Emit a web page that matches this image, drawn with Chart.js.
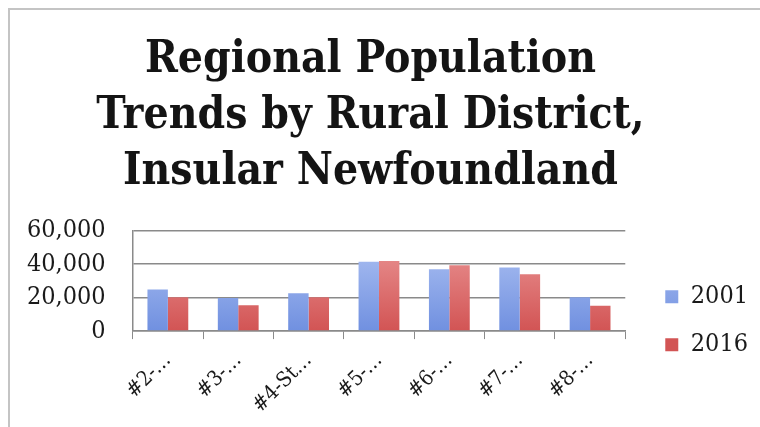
<!DOCTYPE html>
<html lang="en">
<head>
    <meta charset="UTF-8">
    <title>Regional Population Trends by Rural District</title>
    <script src="https://cdn.jsdelivr.net/npm/chart.js"></script>
    <style>
        body { margin: 0; background: #fff; }
        #frame {
            position: absolute; left: 0; top: 0; width: 760px; height: 427px;
        }
        #edge {
            position: absolute; left: 8px; top: 8px; right: 0; bottom: 0;
            border-left: 2px solid #c4c4c4; border-top: 2px solid #c4c4c4;
            pointer-events: none;
        }
    </style>
</head>
<body>
    <div id="frame">
        <canvas id="popChart" width="760" height="427"></canvas>
        <div id="edge"></div>
    </div>
    <script>
        // rural districts (labels are truncated on the axis)
        const districts = ['#2-\u2026', '#3-\u2026', '#4-St\u2026', '#5-\u2026', '#6-\u2026', '#7-\u2026', '#8-\u2026'];
        const pop2001 = [24800, 19800, 22600, 41400, 37000, 38000, 20200];
        const pop2016 = [20200, 15500, 20200, 41800, 39400, 33900, 15200];
        const yTicks = [0, 20000, 40000, 60000];

        const serif = "'DejaVu Serif Condensed', 'Liberation Serif', serif";

        function barFill(top, bottom) {
            return function(context) {
                const area = context.chart.chartArea;
                if (!area) return bottom;
                const g = context.chart.ctx.createLinearGradient(0, area.top, 0, area.bottom);
                g.addColorStop(0, top);
                g.addColorStop(1, bottom);
                return g;
            };
        }

        // push the legend a little away from the plot
        const legendGap = {
            id: 'legendGap',
            afterLayout(chart) {
                chart.legend.left += 17;
                chart.legend.right += 17;
            }
        };

        const ctx = document.getElementById('popChart').getContext('2d');
        new Chart(ctx, {
            type: 'bar',
            data: {
                labels: districts,
                datasets: [{
                    label: '2001',
                    data: pop2001,
                    backgroundColor: barFill('#b3c6f4', '#7090e0')
                }, {
                    label: '2016',
                    data: pop2016,
                    backgroundColor: barFill('#ec9a9a', '#d25454')
                }]
            },
            plugins: [legendGap],
            options: {
                responsive: false,
                animation: false,
                layout: { padding: { top: 33, left: 0, right: 19, bottom: 0 } },
                datasets: {
                    bar: { categoryPercentage: 0.58, barPercentage: 1.0 }
                },
                plugins: {
                    title: {
                        display: true,
                        text: ['Regional Population', 'Trends by Rural District,', 'Insular Newfoundland'],
                        color: '#141414',
                        font: { family: serif, size: 44, weight: 'bold', lineHeight: 1.27 },
                        padding: { top: 0, bottom: 30 }
                    },
                    legend: {
                        position: 'right',
                        align: 'start',
                        title: { display: true, text: '', font: { size: 1 }, padding: { top: 227, bottom: 0 } },
                        labels: {
                            color: '#1a1a1a',
                            font: { family: serif, size: 25 },
                            boxWidth: 13,
                            boxHeight: 13,
                            padding: 23,
                            useBorderRadius: false
                        }
                    },
                    tooltip: { enabled: false }
                },
                scales: {
                    x: {
                        grid: {
                            display: true,
                            drawOnChartArea: false,
                            offset: true,
                            tickLength: 8,
                            color: '#8a8a8a'
                        },
                        border: { color: '#8a8a8a', width: 1.5 },
                        ticks: {
                            color: '#1a1a1a',
                            font: { family: serif, size: 21 },
                            minRotation: 45,
                            maxRotation: 45,
                            padding: 9
                        }
                    },
                    y: {
                        min: 0,
                        max: 60000,
                        afterBuildTicks: function(axis) {
                            axis.ticks = yTicks.map(v => ({ value: v }));
                        },
                        grid: { color: '#8a8a8a', lineWidth: 1.5, tickLength: 0 },
                        border: { color: '#8a8a8a', width: 1.5 },
                        ticks: {
                            autoSkip: false,
                            color: '#1a1a1a',
                            font: { family: serif, size: 25 },
                            padding: 27,
                            callback: v => v.toLocaleString('en-US')
                        }
                    }
                }
            }
        });
    </script>
</body>
</html>
